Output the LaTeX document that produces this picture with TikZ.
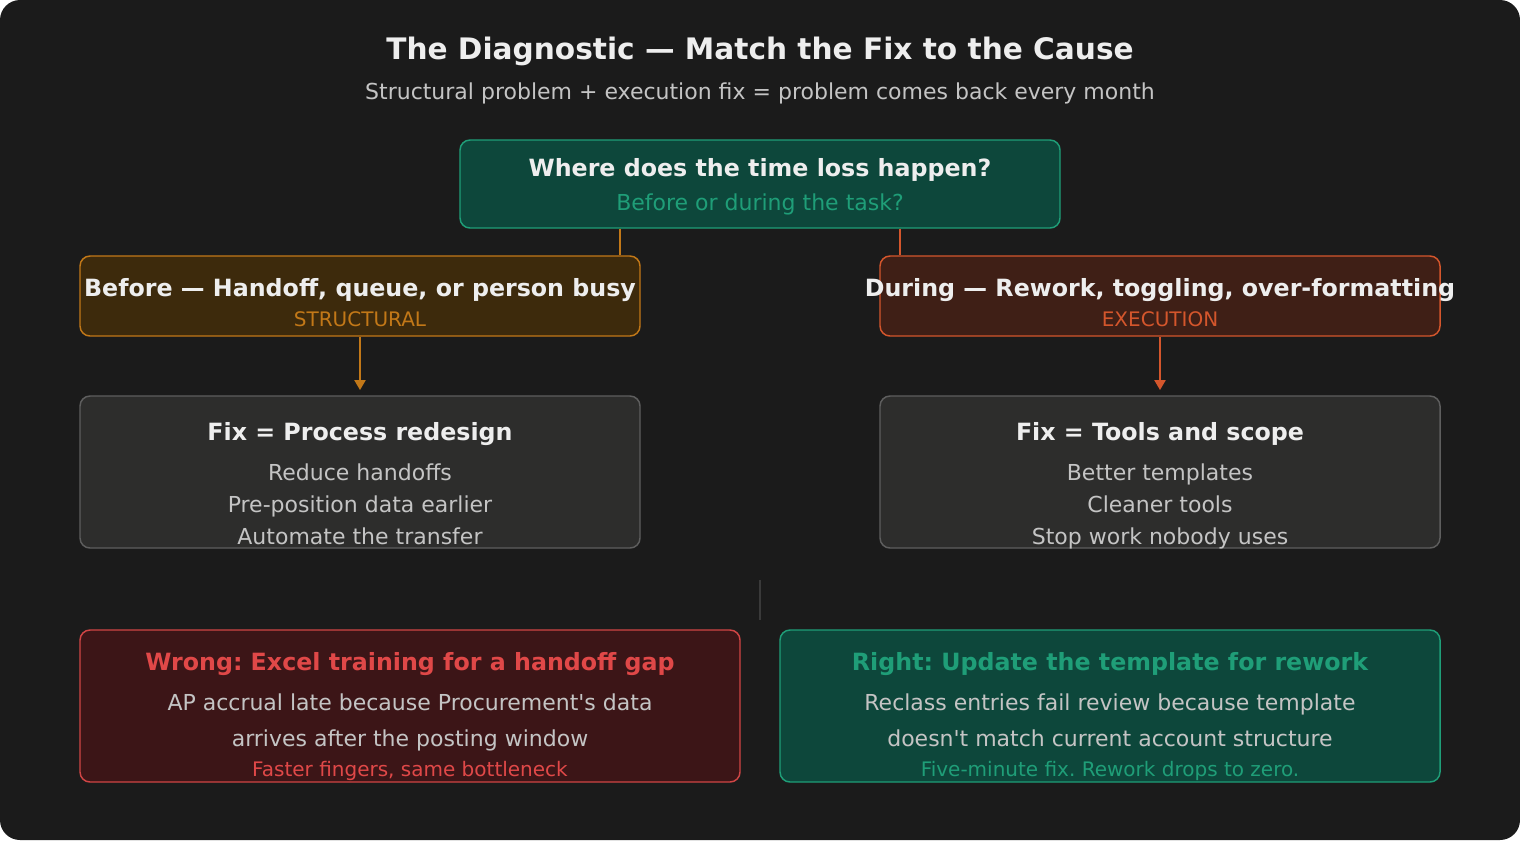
\documentclass[tikz,border=0pt]{standalone}
\usepackage{fontspec}
\setmainfont{DejaVu Sans}[Ligatures=TeXOff]
\usetikzlibrary{arrows.meta}
\frenchspacing
\definecolor{bg}{HTML}{1B1B1B}
\definecolor{txtw}{HTML}{EEEEEE}
\definecolor{txtg}{HTML}{C4C4C4}
\definecolor{tealfill}{HTML}{0D473B}
\definecolor{tealline}{HTML}{1F9E78}
\definecolor{orfill}{HTML}{3D2A0C}
\definecolor{orline}{HTML}{C27818}
\definecolor{rdfill}{HTML}{3F1F16}
\definecolor{rdline}{HTML}{D4562C}
\definecolor{grfill}{HTML}{2D2D2C}
\definecolor{grline}{HTML}{5E5E5E}
\definecolor{wrfill}{HTML}{3C1517}
\definecolor{wrline}{HTML}{D04545}
\definecolor{wrtext}{HTML}{E04848}
\definecolor{divline}{HTML}{3A3A3A}
\tikzset{
  box/.style={draw, rounded corners=7.5pt, line width=1.1pt, inner sep=0pt, anchor=center},
  lbl/.style={anchor=base, inner sep=0pt},
  hd/.style={lbl, font=\bfseries\fontsize{17.8}{20}\selectfont},
  bd/.style={lbl, text=txtg, font=\fontsize{16.5}{19}\selectfont},
  sm/.style={lbl, font=\fontsize{15}{17}\selectfont},
  conn/.style={line width=1.1pt},
  arr/.style={line width=1.1pt, -{Triangle[width=8.5pt,length=7.5pt]}},
}
\begin{document}
\begin{tikzpicture}[x=0.75pt,y=-0.75pt]
\fill[white] (0,0) rectangle (1520,840);
\fill[bg, rounded corners=15pt] (0,0) rectangle (1520,840);
\useasboundingbox (0,0) rectangle (1520,840);

\node[lbl, text=txtw, font=\bfseries\fontsize{22.2}{26}\selectfont] (title) at (760,59) {The Diagnostic — Match the Fix to the Cause};
\node[lbl, text=txtg, font=\fontsize{16.5}{19}\selectfont] (subtitle) at (760,99) {Structural problem + execution fix = problem comes back every month};

% boxes
\node[box, fill=tealfill, draw=tealline, minimum width=450pt, minimum height=66pt] (top) at (760,184) {};
\node[box, fill=orfill, draw=orline, minimum width=420pt, minimum height=60pt] (before) at (360,296) {};
\node[box, fill=rdfill, draw=rdline, minimum width=420pt, minimum height=60pt] (during) at (1160,296) {};
\node[box, fill=grfill, draw=grline, minimum width=420pt, minimum height=114pt] (fixl) at (360,472) {};
\node[box, fill=grfill, draw=grline, minimum width=420pt, minimum height=114pt] (fixr) at (1160,472) {};
\node[box, fill=wrfill, draw=wrline, minimum width=495pt, minimum height=114pt] (wrong) at (410,706) {};
\node[box, fill=tealfill, draw=tealline, minimum width=495pt, minimum height=114pt] (right) at (1110,706) {};

% connectors
\coordinate (lc) at (620,0);
\coordinate (rc) at (900,0);
\coordinate (ae) at (0,390);
\draw[conn, orline] (top.south -| lc) -- (before.north -| lc);
\draw[conn, rdline] (top.south -| rc) -- (during.north -| rc);
\draw[arr, orline] (before.south) -- (fixl.north |- ae);
\draw[arr, rdline] (during.south) -- (fixr.north |- ae);

% divider
\coordinate (d1) at (760,580);
\coordinate (d2) at (760,620);
\draw[divline, line width=0.9pt] (d1) -- (d2);

% texts
\node[hd, text=txtw] (topt) at (760,176) {Where does the time loss happen?};
\node[bd, text=tealline] (tops) at (760,210) {Before or during the task?};

\node[hd, text=txtw] (beft) at (360,296) {Before — Handoff, queue, or person busy};
\node[sm, text=orline] (befs) at (360,326) {STRUCTURAL};
\node[hd, text=txtw] (durt) at (1160,296) {During — Rework, toggling, over-formatting};
\node[sm, text=rdline] (durs) at (1160,326) {EXECUTION};

\node[hd, text=txtw] (fixlt) at (360,440) {Fix = Process redesign};
\node[bd] (fixl1) at (360,480) {Reduce handoffs};
\node[bd] (fixl2) at (360,512) {Pre-position data earlier};
\node[bd] (fixl3) at (360,544) {Automate the transfer};

\node[hd, text=txtw] (fixrt) at (1160,440) {Fix = Tools and scope};
\node[bd] (fixr1) at (1160,480) {Better templates};
\node[bd] (fixr2) at (1160,512) {Cleaner tools};
\node[bd] (fixr3) at (1160,544) {Stop work nobody uses};

\node[hd, text=wrtext] (wrt) at (410,670) {Wrong: Excel training for a handoff gap};
\node[bd] (wr1) at (410,710) {AP accrual late because Procurement's data};
\node[bd] (wr2) at (410,746) {arrives after the posting window};
\node[sm, text=wrtext] (wr3) at (410,776) {Faster fingers, same bottleneck};

\node[hd, text=tealline] (rgt) at (1110,670) {Right: Update the template for rework};
\node[bd] (rg1) at (1110,710) {Reclass entries fail review because template};
\node[bd] (rg2) at (1110,746) {doesn't match current account structure};
\node[sm, text=tealline] (rg3) at (1110,776) {Five-minute fix. Rework drops to zero.};
\end{tikzpicture}
\end{document}
